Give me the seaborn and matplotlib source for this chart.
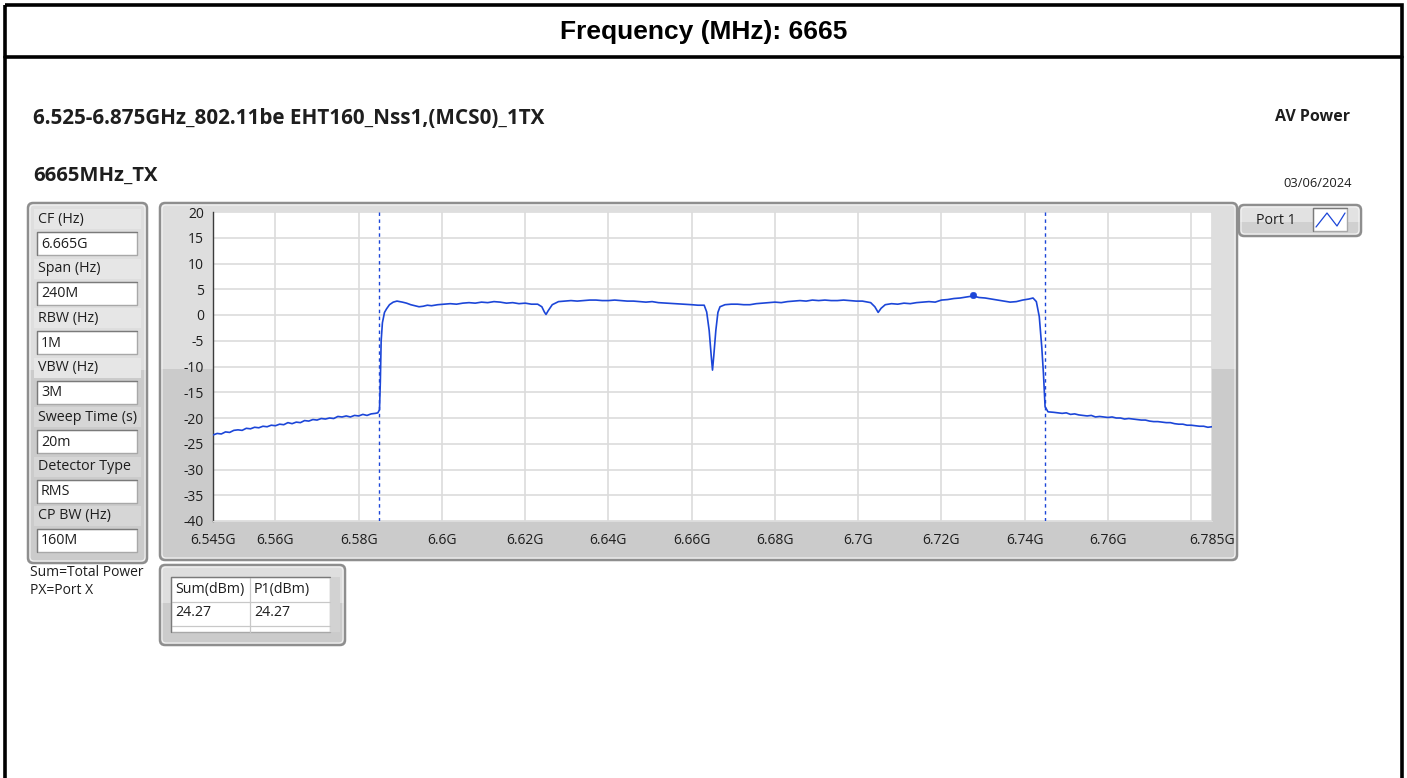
import numpy as np
import pandas as pd
import matplotlib
matplotlib.use("Agg")
import matplotlib.pyplot as plt
from matplotlib.patches import FancyBboxPatch, Rectangle
import seaborn as sns

# ---------------- data ----------------
freq_ghz = [
    # lower out-of-band
    6.5450, 6.5460, 6.5470, 6.5480, 6.5490, 6.5500, 6.5510, 6.5520, 6.5530, 6.5540,
    6.5550, 6.5560, 6.5570, 6.5580, 6.5590, 6.5600, 6.5610, 6.5620, 6.5630, 6.5640,
    6.5650, 6.5660, 6.5670, 6.5680, 6.5690, 6.5700, 6.5710, 6.5720, 6.5730, 6.5740,
    6.5750, 6.5760, 6.5770, 6.5780, 6.5790, 6.5800, 6.5810, 6.5820, 6.5830, 6.5840,
    6.5846,
    # rising edge
    6.5850, 6.5852, 6.5854, 6.5857, 6.5862, 6.5867, 6.5874, 6.5883, 6.5892,
    # in-band
    6.5905, 6.5915, 6.5925, 6.5935, 6.5945, 6.5955, 6.5965, 6.5975, 6.5990, 6.6005,
    6.6020, 6.6035, 6.6050, 6.6065, 6.6080, 6.6095, 6.6110, 6.6125, 6.6140, 6.6155,
    6.6170, 6.6185, 6.6200, 6.6215, 6.6230, 6.6240, 6.6246, 6.6250, 6.6255, 6.6265,
    6.6280, 6.6295, 6.6310, 6.6325, 6.6340, 6.6355, 6.6370, 6.6385, 6.6400, 6.6415,
    6.6430, 6.6445, 6.6460, 6.6475, 6.6490, 6.6505, 6.6520, 6.6540, 6.6560, 6.6580,
    6.6600, 6.6615, 6.6630,
    6.6636, 6.6642, 6.6647, 6.6650, 6.6653, 6.6658, 6.6663, 6.6668,
    6.6680, 6.6695, 6.6710, 6.6725, 6.6740, 6.6755, 6.6770, 6.6785, 6.6800, 6.6815,
    6.6830, 6.6845, 6.6860, 6.6875, 6.6890, 6.6905, 6.6920, 6.6935, 6.6950, 6.6965,
    6.6980, 6.6995, 6.7010, 6.7030, 6.7040, 6.7048, 6.7055, 6.7065, 6.7080, 6.7095,
    6.7110, 6.7125, 6.7140, 6.7155, 6.7170, 6.7185, 6.7200, 6.7215, 6.7230, 6.7245,
    6.7260, 6.7276, 6.7290, 6.7305, 6.7320, 6.7335, 6.7350, 6.7365, 6.7380, 6.7395,
    6.7410, 6.7420, 6.7428,
    # falling edge
    6.7435, 6.7441, 6.7445, 6.7449, 6.7456,
    # upper out-of-band
    6.7470, 6.7480, 6.7490, 6.7500, 6.7510, 6.7520, 6.7530, 6.7540, 6.7550, 6.7560,
    6.7570, 6.7580, 6.7590, 6.7600, 6.7610, 6.7620, 6.7630, 6.7640, 6.7650, 6.7660,
    6.7670, 6.7680, 6.7690, 6.7700, 6.7710, 6.7720, 6.7730, 6.7740, 6.7750, 6.7760,
    6.7770, 6.7780, 6.7790, 6.7800, 6.7810, 6.7820, 6.7830, 6.7840, 6.7850,
]
power_dbm = [
    -23.3, -23.0, -23.1, -22.7, -22.8, -22.4, -22.3, -22.4, -22.0, -22.1,
    -21.8, -21.9, -21.6, -21.7, -21.4, -21.5, -21.2, -21.3, -20.9, -21.1,
    -20.8, -20.9, -20.5, -20.6, -20.3, -20.4, -20.1, -20.2, -20.0, -20.1,
    -19.7, -19.8, -19.6, -19.8, -19.5, -19.6, -19.3, -19.5, -19.2, -19.1,
    -19.0,
    -18.4, -13.0, -5.0, -1.5, 0.5, 1.2, 2.0, 2.5, 2.7,
    2.5, 2.3, 2.0, 1.8, 1.6, 1.7, 1.9, 1.8, 2.0, 2.1,
    2.2, 2.1, 2.3, 2.4, 2.3, 2.5, 2.4, 2.6, 2.5, 2.3,
    2.4, 2.2, 2.3, 2.1, 2.1, 1.6, 0.6, 0.1, 0.8, 2.0,
    2.6, 2.7, 2.8, 2.7, 2.8, 2.9, 2.9, 2.8, 2.8, 2.9,
    2.8, 2.7, 2.7, 2.6, 2.5, 2.6, 2.4, 2.3, 2.2, 2.1,
    2.0, 1.9, 1.9,
    0.6, -3.0, -8.0, -10.7, -8.0, -3.0, 0.5, 1.6,
    2.0, 2.1, 2.1, 2.0, 2.0, 2.2, 2.3, 2.4, 2.5, 2.4,
    2.6, 2.7, 2.8, 2.7, 2.9, 2.8, 2.9, 2.8, 2.8, 2.9,
    2.8, 2.7, 2.7, 2.4, 1.6, 0.5, 1.3, 2.0, 2.2, 2.1,
    2.3, 2.2, 2.4, 2.5, 2.6, 2.5, 2.9, 3.0, 3.2, 3.3,
    3.5, 3.7, 3.4, 3.3, 3.1, 2.9, 2.7, 2.5, 2.6, 2.9,
    3.1, 3.3, 2.6,
    -0.3, -6.2, -11.3, -17.8, -18.8,
    -18.9, -19.0, -19.1, -19.0, -19.3, -19.2, -19.4, -19.5, -19.6, -19.5,
    -19.8, -19.7, -19.8, -19.9, -19.8, -20.0, -20.0, -20.2, -20.1, -20.2,
    -20.3, -20.4, -20.4, -20.6, -20.7, -20.7, -20.8, -20.9, -20.9, -21.1,
    -21.2, -21.2, -21.4, -21.4, -21.5, -21.6, -21.6, -21.8, -21.7,
]
marker_freq = [6.7276]
marker_power = [3.8]
cp_edges = [6.585, 6.745]

xtick_vals = [6.545, 6.56, 6.58, 6.60, 6.62, 6.64, 6.66, 6.68, 6.70, 6.72, 6.74, 6.76, 6.78, 6.785]
xtick_labels = ["6.545G", "6.56G", "6.58G", "6.6G", "6.62G", "6.64G", "6.66G", "6.68G",
                "6.7G", "6.72G", "6.74G", "6.76G", "", "6.785G"]
ytick_vals = [20, 15, 10, 5, 0, -5, -10, -15, -20, -25, -30, -35, -40]

param_labels = ["CF (Hz)", "Span (Hz)", "RBW (Hz)", "VBW (Hz)", "Sweep Time (s)", "Detector Type", "CP BW (Hz)"]
param_values = ["6.665G", "240M", "1M", "3M", "20m", "RMS", "160M"]
table_headers = ["Sum(dBm)", "P1(dBm)"]
table_values = ["24.27", "24.27"]

title = "Frequency (MHz): 6665"
subtitle = "6.525-6.875GHz_802.11be EHT160_Nss1,(MCS0)_1TX"
mode_text = "AV Power"
chan_text = "6665MHz_TX"
date_text = "03/06/2024"

# ---------------- style ----------------
sns.set_style("white")
plt.rcParams['font.family'] = ['Open Sans', 'DejaVu Sans']
TXT = "#1e1e1e"
BLUE = "#1c46d8"
FS = 10.3

W, H = 1407, 778
fig = plt.figure(figsize=(W / 100, H / 100), dpi=100)
fig.patch.set_facecolor("white")

bg = fig.add_axes([0, 0, 1, 1])
bg.set_xlim(0, W)
bg.set_ylim(H, 0)
bg.axis("off")


def panel(x0, y0, x1, y1, split, top="#dedede", low="#cbcbcb", r=5):
    p = FancyBboxPatch((x0, y0), x1 - x0, y1 - y0,
                       boxstyle=f"round,pad=0,rounding_size={r}",
                       fc=top, ec="none", zorder=1)
    bg.add_patch(p)
    low_rect = Rectangle((x0, split), x1 - x0, y1 - split, fc=low, ec="none", zorder=1.1)
    bg.add_patch(low_rect)
    low_rect.set_clip_path(p)
    bg.add_patch(FancyBboxPatch((x0, y0), x1 - x0, y1 - y0,
                                boxstyle=f"round,pad=0,rounding_size={r}",
                                fc="none", ec="#8e8e8e", lw=1.8, zorder=1.2))
    bg.add_patch(FancyBboxPatch((x0 + 2, y0 + 2), x1 - x0 - 4, y1 - y0 - 4,
                                boxstyle=f"round,pad=0,rounding_size={r - 1}",
                                fc="none", ec="#f4f4f4", lw=0.8, zorder=1.2))


def whitebox(x0, y0, x1, y1):
    bg.add_patch(Rectangle((x0, y0), x1 - x0, y1 - y0, fc="white", ec="#a8a8a8", lw=1.0, zorder=2))
    bg.plot([x0, x0, x1], [y1, y0, y0], color="#7a7a7a", lw=0.9, zorder=2.1)


# outer frame & header
bg.add_patch(Rectangle((5, 5), 1397, 800, fc="none", ec="black", lw=2.6, zorder=5))
bg.plot([5, 1402], [57, 57], color="black", lw=2.6, zorder=5)
bg.text(704, 32, title, ha="center", va="center", fontsize=19, fontweight="bold",
        family=["Liberation Sans", "DejaVu Sans"], color="black")

bg.text(33, 118, subtitle, ha="left", va="center", fontsize=14.9, fontweight="bold", color=TXT)
bg.text(1350, 117, mode_text, ha="right", va="center", fontsize=11.5, fontweight="bold", color=TXT)
bg.text(33, 176, chan_text, ha="left", va="center", fontsize=14.6, fontweight="bold", color=TXT)
bg.text(1352, 183, date_text, ha="right", va="center", fontsize=9.3, color=TXT)

# left parameter panel
panel(28, 203, 147, 563, split=370)
for i, (lab, val) in enumerate(zip(param_labels, param_values)):
    ly = 219 + i * 49.5
    bg.add_patch(Rectangle((34, ly - 10), 107, 20, fc="#d6d6d6" if ly > 370 else "#e6e6e6",
                           ec="none", zorder=1.5))
    bg.text(38, ly, lab, ha="left", va="center", fontsize=FS, color=TXT, zorder=3)
    by0 = ly + 13
    whitebox(37, by0, 137, by0 + 23)
    bg.text(41, by0 + 12, val, ha="left", va="center", fontsize=FS, color=TXT, zorder=3)

bg.text(30, 573, "Sum=Total Power", ha="left", va="center", fontsize=10, color=TXT)
bg.text(30, 590, "PX=Port X", ha="left", va="center", fontsize=10, color=TXT)

# graph panel
panel(160, 203, 1237, 560, split=369)

# legend box
panel(1239, 205, 1361, 236, split=222, top="#e2e2e2", low="#d0d0d0", r=5)
bg.text(1256, 220, "Port 1", ha="left", va="center", fontsize=FS, color=TXT, zorder=3)
whitebox(1313, 208, 1347, 231)
bg.plot([1316, 1327, 1337, 1345], [227, 213, 226, 213], color=BLUE, lw=0.9, zorder=3)

# results table
panel(160, 565, 345, 645, split=603)
bg.add_patch(Rectangle((171, 577), 159, 55, fc="white", ec="#a8a8a8", lw=1.0, zorder=2))
bg.add_patch(Rectangle((330, 577), 10, 55, fc="#d2d2d2", ec="none", zorder=2))
bg.plot([171, 330], [602, 602], color="#c8c8c8", lw=0.9, zorder=2.2)
bg.plot([171, 330], [626, 626], color="#c8c8c8", lw=0.9, zorder=2.2)
bg.plot([250, 250], [577, 632], color="#c8c8c8", lw=0.9, zorder=2.2)
bg.plot([171, 171, 330], [632, 577, 577], color="#7a7a7a", lw=0.9, zorder=2.3)
for j, (hd, vv) in enumerate(zip(table_headers, table_values)):
    tx = 175 + j * 79
    bg.text(tx, 589, hd, ha="left", va="center", fontsize=FS, color=TXT, zorder=3)
    bg.text(tx, 613, vv, ha="left", va="center", fontsize=FS, color=TXT, zorder=3)

# ---------------- main spectrum axes ----------------
L, R, T, B = 213, 1212, 212, 521
ax = fig.add_axes([L / W, 1 - B / H, (R - L) / W, (B - T) / H])
ax.set_facecolor("white")

df = pd.DataFrame({"freq": freq_ghz, "power": power_dbm})
sns.lineplot(data=df, x="freq", y="power", ax=ax, color=BLUE, lw=1.2, zorder=4, sort=False)
sns.scatterplot(x=marker_freq, y=marker_power, ax=ax, color=BLUE, s=22, edgecolor=BLUE, zorder=5)
for xe in cp_edges:
    ax.axvline(xe, color=BLUE, lw=1.0, ls=(0, (2.5, 2.5)), zorder=3)

ax.set_xlim(6.545, 6.785)
ax.set_ylim(-40, 20)
ax.set_xticks(xtick_vals)
ax.set_xticklabels(xtick_labels)
ax.set_yticks(ytick_vals)
ax.set_yticklabels([str(v) for v in ytick_vals])
ax.grid(True, color="#dcdcdc", lw=1.2)
ax.set_axisbelow(True)
ax.set_xlabel("")
ax.set_ylabel("")
for s in ["top", "right"]:
    ax.spines[s].set_visible(False)
ax.spines["left"].set_color("#3c3c3c")
ax.spines["left"].set_linewidth(1.0)
ax.spines["bottom"].set_color("#dcdcdc")
ax.tick_params(axis="both", which="both", direction="out", length=6, width=1.0,
               color="#3c3c3c", labelsize=10, labelcolor=TXT, pad=0.5)
ax.tick_params(axis="x", pad=3)

fig.savefig("out.png", dpi=100, facecolor="white")
